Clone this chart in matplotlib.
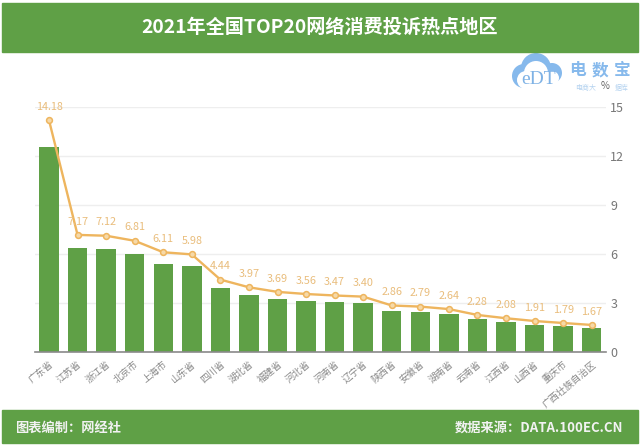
import matplotlib
matplotlib.use('Agg')
import matplotlib.pyplot as plt
from matplotlib.patches import Rectangle, Circle

plt.rcParams['font.family'] = ['Noto Sans CJK SC', 'DejaVu Sans']

regions = ['广东省', '江苏省', '浙江省', '北京市', '上海市', '山东省', '四川省', '湖北省', '福建省', '河北省',
           '河南省', '辽宁省', '陕西省', '安徽省', '湖南省', '云南省', '江西省', '山西省', '重庆市', '广西壮族自治区']
line_vals = [14.18, 7.17, 7.12, 6.81, 6.11, 5.98, 4.44, 3.97, 3.69, 3.56,
             3.47, 3.40, 2.86, 2.79, 2.64, 2.28, 2.08, 1.91, 1.79, 1.67]
bar_vals = [12.54, 6.37, 6.32, 6.03, 5.42, 5.29, 3.93, 3.52, 3.27, 3.15,
            3.07, 3.01, 2.53, 2.47, 2.34, 2.02, 1.84, 1.69, 1.58, 1.48]
yticks = [0, 3, 6, 9, 12, 15]

W, H = 640, 445
GREEN = '#5fa046'
ORANGE = '#eeb55e'

fig = plt.figure(figsize=(W / 100, H / 100), dpi=100)
ax = fig.add_axes([34.7 / W, 1 - 352.3 / H, (606 - 34.7) / W, (352.3 - 106.7) / H])

x = list(range(len(regions)))
ax.bar(x, bar_vals, width=0.68, color=GREEN, zorder=2)
ax.plot(x, line_vals, color=ORANGE, lw=1.7, marker='o', ms=4.2, mfc='#f6d9a8', mec=ORANGE, mew=1.1, zorder=3)
for i, v in enumerate(line_vals):
    ax.annotate('%.2f' % v, (i, v), xytext=(0, 6), textcoords='offset points', ha='center', va='bottom',
                fontsize=7.8, color='#e9bd7c', zorder=4)

ax.set_xlim(-0.5, 19.5)
ax.set_ylim(0, 15)
ax.set_yticks(yticks)
ax.yaxis.tick_right()
ax.tick_params(axis='y', length=0, labelsize=9, labelcolor='#777777', pad=3)
ax.set_xticks(x)
ax.set_xticklabels(regions, rotation=40, ha='right', rotation_mode='anchor', fontsize=6.8, color='#888888')
ax.tick_params(axis='x', length=0, pad=5)
ax.grid(axis='y', color='#eeeeee', lw=1, zorder=0)
ax.set_axisbelow(True)
for s in ['top', 'left', 'right']:
    ax.spines[s].set_visible(False)
ax.spines['bottom'].set_color('#8a8a8a')
ax.spines['bottom'].set_linewidth(1.2)

# header and footer bands
fig.add_artist(Rectangle((2 / W, 1 - 52 / H), 636 / W, 49 / H, transform=fig.transFigure, color=GREEN))
fig.add_artist(Rectangle((2 / W, 1 - 443 / H), 636 / W, 33 / H, transform=fig.transFigure, color=GREEN))
fig.text(320 / W, 1 - 27 / H, '2021年全国TOP20网络消费投诉热点地区', ha='center', va='center',
         fontsize=13.8, fontweight='bold', color='white')
fig.text(15 / W, 1 - 428 / H, '图表编制：网经社', ha='left', va='center', fontsize=9.5, fontweight='bold', color='#f2f2f2')
fig.text(623 / W, 1 - 428 / H, '数据来源：DATA.100EC.CN', ha='right', va='center', fontsize=9.5, fontweight='bold', color='#f2f2f2')

# logo watermark
LOGO = '#86b9ec'
logo = fig.add_axes([0, 0, 1, 1], facecolor='none')
logo.set_xlim(0, W)
logo.set_ylim(H, 0)
logo.axis('off')
for cx, cy, r in [(536, 68, 15), (524, 76, 12), (552, 73, 10)]:
    logo.add_patch(Circle((cx, cy), r, color=LOGO, lw=0))
for cx, cy, r in [(536, 73, 12), (526, 80, 9), (552, 78, 7)]:
    logo.add_patch(Circle((cx, cy), r, color='white', lw=0))
logo.text(539, 80, 'eDT', ha='center', va='center', fontsize=14, family='Liberation Serif', color='#7fb2e5')
for cx, ch in zip([577.5, 600, 622.5], '电数宝'):
    logo.text(cx, 70, ch, ha='center', va='center', fontsize=12, fontweight='bold', color=LOGO)
logo.text(586, 88, '电商大', ha='center', va='center', fontsize=5, color='#b5d3f0')
logo.text(622, 88, '据库', ha='center', va='center', fontsize=5, color='#b5d3f0')
logo.text(605, 86, '%', ha='center', va='center', fontsize=7, color='#666666')

fig.savefig('out.png', dpi=100)
